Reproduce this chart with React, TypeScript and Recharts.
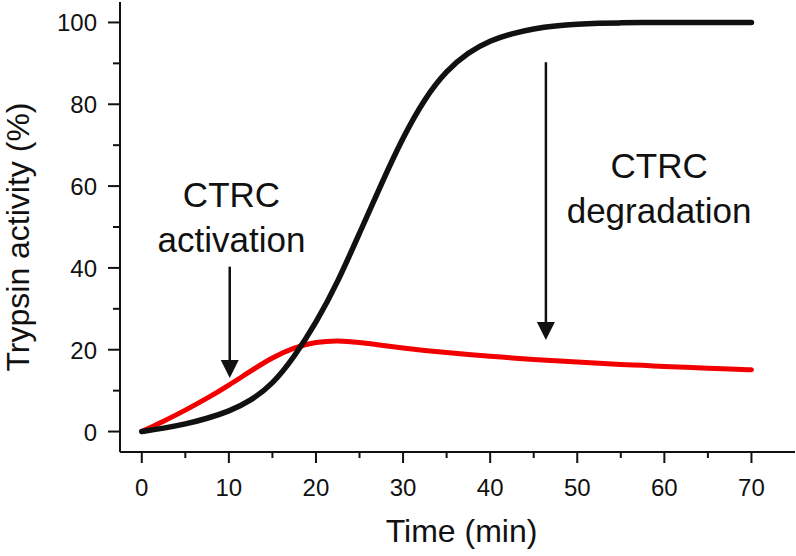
import { LineChart, Line, XAxis, YAxis, ReferenceLine, ReferenceDot } from "recharts";

// time points (min)
const time = [0, 2.5, 5, 7.5, 10, 12.5, 15, 17.5, 20, 22.5, 25, 27.5, 30, 32.5, 35, 37.5, 40, 42.5, 45, 47.5, 50, 52.5, 55, 57.5, 60, 62.5, 65, 67.5, 70];

// trypsin activity without CTRC (black)
const withoutCtrc = [0, 0.8, 1.8, 3.2, 4.9, 7.5, 11.5, 18.2, 26.5, 36.5, 48.5, 60.5, 72, 81.5, 88.3, 92.7, 95.6, 97.3, 98.5, 99.2, 99.6, 99.8, 99.9, 100, 100, 100, 100, 100, 100];

// trypsin activity with CTRC (red)
const withCtrc = [0, 2.5, 5.2, 8.1, 11.3, 14.8, 18.1, 20.6, 21.9, 22.3, 21.8, 21.1, 20.4, 19.8, 19.3, 18.8, 18.4, 18, 17.6, 17.3, 17, 16.7, 16.4, 16.2, 15.9, 15.7, 15.5, 15.3, 15.1];

const xTicks = [0, 5, 10, 15, 20, 25, 30, 35, 40, 45, 50, 55, 60, 65, 70];
const yTicks = [0, 10, 20, 30, 40, 50, 60, 70, 80, 90, 100];

const data = time.map((t, i) => ({ t, black: withoutCtrc[i], red: withCtrc[i] }));

const FONT = '"Liberation Sans", Arial, Helvetica, sans-serif';
const INK = "#111";

function XTick(props: any) {
  const { x, y, payload } = props;
  const major = payload.value % 10 === 0;
  return (
    <g>
      <line x1={x} x2={x} y1={y} y2={y + (major ? 11 : 6)} stroke={INK} strokeWidth={2} />
      {major && (
        <text x={x} y={y + 44} textAnchor="middle" fontSize={24} fontFamily={FONT} fill={INK}>
          {payload.value}
        </text>
      )}
    </g>
  );
}

function YTick(props: any) {
  const { x, y, payload } = props;
  const major = payload.value % 20 === 0;
  return (
    <g>
      <line x1={x - (major ? 12 : 7)} x2={x} y1={y} y2={y} stroke={INK} strokeWidth={2} />
      {major && (
        <text x={x - 23} y={y + 9} textAnchor="end" fontSize={24} fontFamily={FONT} fill={INK}>
          {payload.value}
        </text>
      )}
    </g>
  );
}

// vertical arrow, tip at the second segment point
function Arrow(props: any) {
  const { x1, y1, x2, y2 } = props;
  const head = 18;
  return (
    <g>
      <line x1={x1} y1={y1} x2={x2} y2={y2 - head + 2} stroke={INK} strokeWidth={2.5} />
      <polygon points={`${x2 - 9},${y2 - head} ${x2 + 9},${y2 - head} ${x2},${y2}`} fill={INK} />
    </g>
  );
}

function TwoLines(lines: string[]) {
  return (props: any) => {
    const { cx, cy } = props;
    return (
      <text textAnchor="middle" fontSize={35} fontFamily={FONT} fill={INK}>
        <tspan x={cx} y={cy}>{lines[0]}</tspan>
        <tspan x={cx} y={cy + 45}>{lines[1]}</tspan>
      </text>
    );
  };
}

export default function App() {
  return (
    <div style={{ position: "absolute", left: 0, top: 0, background: "#fff" }}>
      <LineChart width={796} height={556} data={data} margin={{ top: 2, right: 1, left: 0, bottom: 0 }}>
        <XAxis
          dataKey="t"
          type="number"
          domain={[-2.5, 75]}
          ticks={xTicks}
          interval={0}
          height={104}
          tickSize={0}
          tickMargin={0}
          tickLine={false}
          tick={<XTick />}
          axisLine={{ stroke: INK, strokeWidth: 2 }}
          allowDataOverflow
          label={{
            content: (p: any) => {
              const vb = p.viewBox;
              return (
                <text x={vb.x + vb.width / 2 + 4} y={vb.y + 90} textAnchor="middle" fontSize={32} fontFamily={FONT} fill={INK}>
                  Time (min)
                </text>
              );
            },
          }}
        />
        <YAxis
          type="number"
          domain={[-5, 105]}
          ticks={yTicks}
          interval={0}
          width={120}
          tickSize={0}
          tickMargin={0}
          tickLine={false}
          tick={<YTick />}
          axisLine={{ stroke: INK, strokeWidth: 2 }}
          allowDataOverflow
          label={{
            content: (p: any) => {
              const vb = p.viewBox;
              const cx = 28.5;
              const cy = vb.y + vb.height / 2 + 10;
              return (
                <text x={cx} y={cy} transform={`rotate(-90, ${cx}, ${cy})`} textAnchor="middle" fontSize={32} fontFamily={FONT} fill={INK}>
                  Trypsin activity (%)
                </text>
              );
            },
          }}
        />
        <Line
          type="basis"
          dataKey="red"
          stroke="#f20000"
          strokeWidth={5}
          strokeLinecap="round"
          dot={false}
          activeDot={false}
          isAnimationActive={false}
        />
        <Line
          type="basis"
          dataKey="black"
          stroke={INK}
          strokeWidth={5.5}
          strokeLinecap="round"
          dot={false}
          activeDot={false}
          isAnimationActive={false}
        />
        <ReferenceLine segment={[{ x: 10.1, y: 40.3 }, { x: 10.1, y: 13.1 }]} shape={<Arrow />} />
        <ReferenceLine segment={[{ x: 46.4, y: 90.3 }, { x: 46.4, y: 22.4 }]} shape={<Arrow />} />
        <ReferenceDot x={10.3} y={55} r={0} shape={TwoLines(["CTRC", "activation"])} />
        <ReferenceDot x={59.4} y={61.9} r={0} shape={TwoLines(["CTRC", "degradation"])} />
      </LineChart>
    </div>
  );
}
